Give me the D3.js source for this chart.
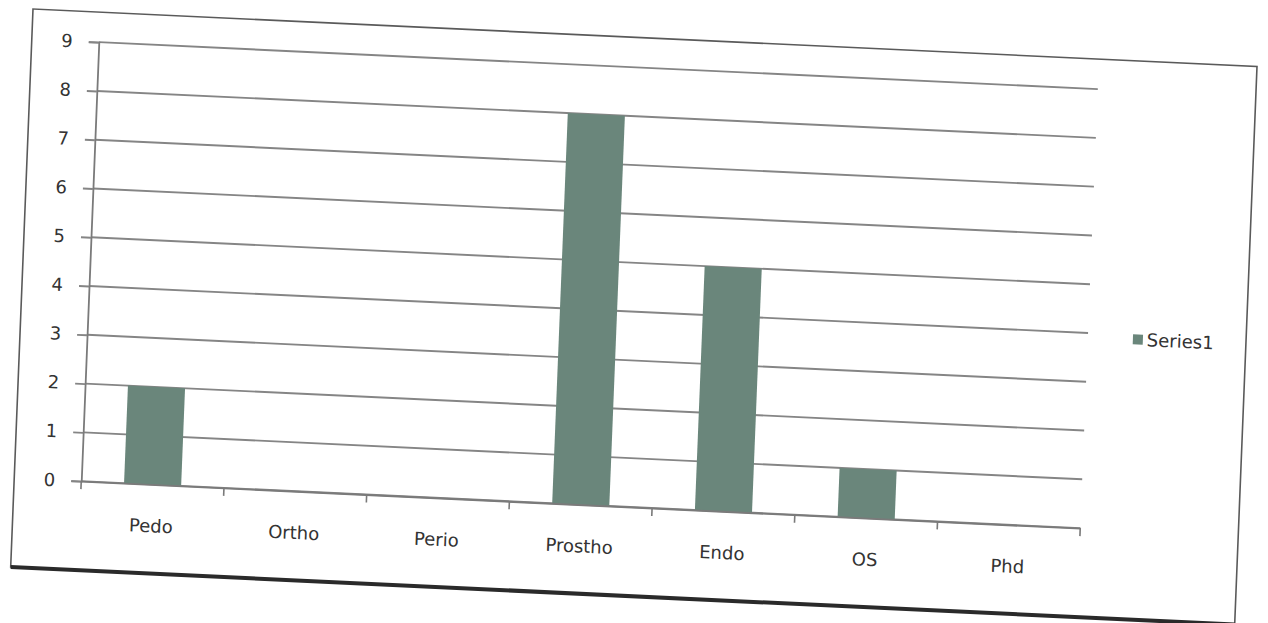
<!DOCTYPE html>
<html>
<head>
<meta charset="utf-8">
<script src="https://cdn.jsdelivr.net/npm/d3@7"></script>
<style>
  html, body { margin: 0; padding: 0; background: #ffffff; }
  svg { display: block; }
</style>
</head>
<body>
<svg id="chart" width="1268" height="623"></svg>
<script>
const categories = ["Pedo", "Ortho", "Perio", "Prostho", "Endo", "OS", "Phd"];
const series1 = [2, 0, 0, 8, 5, 1, 0];
const yTicks = [0, 1, 2, 3, 4, 5, 6, 7, 8, 9];
const legendLabel = "Series1";

const svg = d3.select("#chart");
// scanned page is slightly rotated / sheared
const g = svg.append("g").attr("transform", "matrix(1,0.047,-0.04,1,33,9)");

const frameW = 1224, frameH = 558;
const plotL = 67, plotR = 1066, plotT = 30, plotB = 469;
const barColor = "#6a867b";
const textColor = "#333333";

const x = d3.scaleBand().domain(categories).range([plotL, plotR])
  .paddingInner(0.6).paddingOuter(0.3);
const y = d3.scaleLinear().domain([0, 9]).range([plotB, plotT]);

// frame
g.append("rect").attr("x", 0).attr("y", 0).attr("width", frameW).attr("height", frameH)
  .attr("fill", "#ffffff").attr("stroke", "#5a5a5a").attr("stroke-width", 1.6);
g.append("line").attr("x1", 0).attr("x2", frameW).attr("y1", frameH).attr("y2", frameH)
  .attr("stroke", "#2a2a2a").attr("stroke-width", 4);

// gridlines
g.append("g").selectAll("line").data(yTicks).join("line")
  .attr("x1", plotL).attr("x2", plotR)
  .attr("y1", d => y(d)).attr("y2", d => y(d))
  .attr("stroke", "#858585").attr("stroke-width", 1.9);

// y axis
const yAxis = g.append("g").attr("transform", `translate(${plotL},0)`)
  .call(d3.axisLeft(y).tickValues(yTicks).tickSize(10).tickPadding(16).tickFormat(d3.format("d")));
yAxis.select(".domain").attr("stroke", "#7a7a7a").attr("stroke-width", 1.8);
yAxis.selectAll(".tick line").attr("stroke", "#858585").attr("stroke-width", 1.9);
yAxis.selectAll("text").attr("font-family", "DejaVu Sans").attr("font-size", 18).attr("fill", textColor);

// bars
g.append("g").selectAll("rect").data(series1).join("rect")
  .attr("x", (d, i) => x(categories[i]))
  .attr("width", x.bandwidth())
  .attr("y", d => y(d))
  .attr("height", d => y(0) - y(d))
  .attr("fill", barColor);

// x axis
const xAxis = g.append("g").attr("transform", `translate(0,${plotB})`)
  .call(d3.axisBottom(x).tickSize(0).tickPadding(35));
xAxis.select(".domain").attr("stroke", "#7a7a7a").attr("stroke-width", 1.9);
xAxis.selectAll("text").attr("font-family", "DejaVu Sans").attr("font-size", 18).attr("fill", textColor);
// category boundary ticks
const step = x.step();
const bounds = d3.range(categories.length + 1).map(i => plotL + i * step);
g.append("g").selectAll("line").data(bounds).join("line")
  .attr("x1", d => d).attr("x2", d => d)
  .attr("y1", plotB).attr("y2", plotB + 8)
  .attr("stroke", "#7a7a7a").attr("stroke-width", 1.6);

// legend
const lg = g.append("g").attr("transform", "translate(1111,278)");
lg.append("rect").attr("x", 0).attr("y", -5).attr("width", 10).attr("height", 10).attr("fill", barColor);
lg.append("text").attr("x", 14).attr("y", 0).attr("dy", "0.35em")
  .attr("font-family", "DejaVu Sans").attr("font-size", 18).attr("fill", textColor)
  .text(legendLabel);
</script>
</body>
</html>
